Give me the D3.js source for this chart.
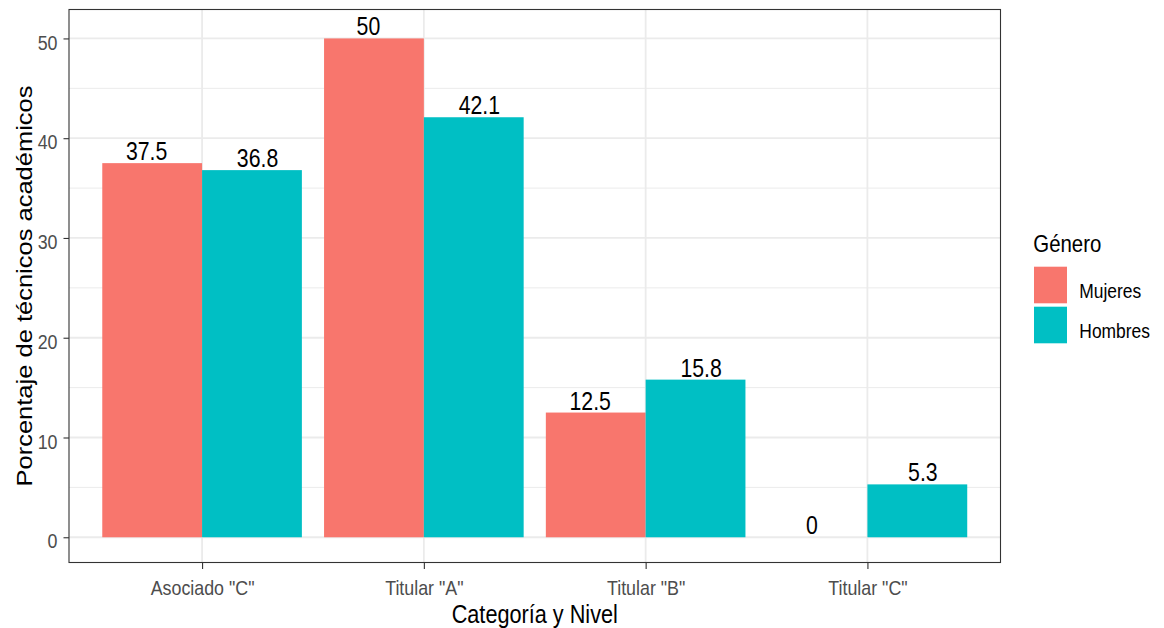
<!DOCTYPE html>
<html>
<head>
<meta charset="utf-8">
<script src="https://cdn.jsdelivr.net/npm/d3@7"></script>
<style>
  html, body { margin: 0; padding: 0; background: #fff; }
  svg { display: block; font-family: "Liberation Sans", Arial, Helvetica, sans-serif; }
</style>
</head>
<body>
<svg id="chart" width="1164" height="628"></svg>
<script>
// ---- data ----
const categories = ['Asociado "C"', 'Titular "A"', 'Titular "B"', 'Titular "C"'];
const genders = ["Mujeres", "Hombres"];
const mujeres = [37.5, 50, 12.5, 0];
const hombres = [36.8, 42.1, 15.8, 5.3];
const yTicks = [0, 10, 20, 30, 40, 50];
const yMinorTicks = [5, 15, 25, 35, 45];
const colors = ["#F8766D", "#00BFC4"];
const xTitle = "Categoría y Nivel";
const yTitle = "Porcentaje de técnicos académicos";
const legendTitle = "Género";

// ---- layout ----
const SX = 0.85; // horizontal glyph compression seen in the reference
const panel = { left: 69, right: 1000.5, top: 9.5, bottom: 562.5 };

const svg = d3.select("#chart");

const x = d3.scalePoint().domain(categories).range([panel.left, panel.right]).padding(0.6);
const y = d3.scaleLinear().domain([-2.53, 52.9]).range([panel.bottom, panel.top]);
const barW = x.step() * 0.45;      // bars dodged with width 0.9
const labW = x.step() * 0.5;       // labels dodged with width 1.0

const rows = categories.map((c, i) => ({ cat: c, vals: [mujeres[i], hombres[i]] }));

// panel background
svg.append("rect").attr("x", panel.left).attr("y", panel.top)
  .attr("width", panel.right - panel.left).attr("height", panel.bottom - panel.top)
  .attr("fill", "#fff");

// grid
const grid = svg.append("g");
grid.selectAll(".minor").data(yMinorTicks).join("line")
  .attr("x1", panel.left).attr("x2", panel.right)
  .attr("y1", d => y(d)).attr("y2", d => y(d))
  .attr("stroke", "#EBEBEB").attr("stroke-width", 1);
grid.selectAll(".major").data(yTicks).join("line")
  .attr("x1", panel.left).attr("x2", panel.right)
  .attr("y1", d => y(d)).attr("y2", d => y(d))
  .attr("stroke", "#EBEBEB").attr("stroke-width", 1.8);
grid.selectAll(".vmajor").data(categories).join("line")
  .attr("x1", d => x(d)).attr("x2", d => x(d))
  .attr("y1", panel.top).attr("y2", panel.bottom)
  .attr("stroke", "#EBEBEB").attr("stroke-width", 1.8);

// bars
const barsG = svg.append("g");
rows.forEach(r => {
  r.vals.forEach((v, gi) => {
    const x0 = x(r.cat) - barW + gi * barW;
    barsG.append("rect")
      .attr("x", x0).attr("width", barW)
      .attr("y", Math.min(y(v), y(0))).attr("height", Math.abs(y(0) - y(v)))
      .attr("fill", colors[gi]);
  });
});

function addText(parent, tx, ty, str, opts = {}) {
  const t = parent.append("text")
    .attr("transform", `translate(${tx},${ty}) scale(${SX},1)` + (opts.rotate ? ` rotate(${opts.rotate})` : ""))
    .attr("text-anchor", opts.anchor || "start")
    .attr("font-size", opts.size || 20)
    .attr("fill", opts.fill || "#000")
    .text(str);
  return t;
}

// bar labels
const labG = svg.append("g");
rows.forEach(r => {
  r.vals.forEach((v, gi) => {
    const cx = x(r.cat) - labW / 2 + gi * labW;
    addText(labG, cx, y(v) - 3, String(v), { anchor: "middle", size: 25 });
  });
});

// panel border
svg.append("rect").attr("x", panel.left).attr("y", panel.top)
  .attr("width", panel.right - panel.left).attr("height", panel.bottom - panel.top)
  .attr("fill", "none").attr("stroke", "#333333").attr("stroke-width", 1.1);

// y axis
const yAxisG = svg.append("g").attr("transform", `translate(${panel.left},0)`)
  .call(d3.axisLeft(y).tickValues(yTicks).tickSize(5.5).tickFormat(d3.format("d")));
yAxisG.select(".domain").remove();
yAxisG.selectAll(".tick line").attr("stroke", "#333333").attr("stroke-width", 1.1);
yAxisG.selectAll(".tick text")
  .attr("x", 0).attr("dy", null).attr("y", 0)
  .attr("transform", `translate(-11.5,10.7) scale(${SX},1)`)
  .attr("text-anchor", "end")
  .attr("font-size", 21).attr("font-family", null)
  .attr("fill", "#4D4D4D");

// x axis
const xAxisG = svg.append("g").attr("transform", `translate(0,${panel.bottom})`)
  .call(d3.axisBottom(x).tickSize(6.5));
xAxisG.select(".domain").remove();
xAxisG.selectAll(".tick line").attr("stroke", "#333333").attr("stroke-width", 1.1);
xAxisG.selectAll(".tick text")
  .attr("y", 0).attr("dy", null)
  .attr("transform", `translate(0,32.5) scale(${SX},1)`)
  .attr("text-anchor", "middle")
  .attr("font-size", 21).attr("font-family", null)
  .attr("fill", "#4D4D4D");

// axis titles
addText(svg, (panel.left + panel.right) / 2, 623, xTitle, { anchor: "middle", size: 25.5 });
addText(svg, 31.5, (panel.top + panel.bottom) / 2, yTitle, { anchor: "middle", size: 25.5, rotate: -90 });

// legend
const lg = svg.append("g");
addText(lg, 1033.3, 251.7, legendTitle, { size: 24 });
const keyTop = [266.7, 306.7];
genders.forEach((gname, i) => {
  lg.append("rect").attr("x", 1034).attr("y", keyTop[i])
    .attr("width", 33).attr("height", 36.6).attr("fill", colors[i]);
  addText(lg, 1079.3, keyTop[i] + 31.6, gname, { size: 20.5 });
});
</script>
</body>
</html>
